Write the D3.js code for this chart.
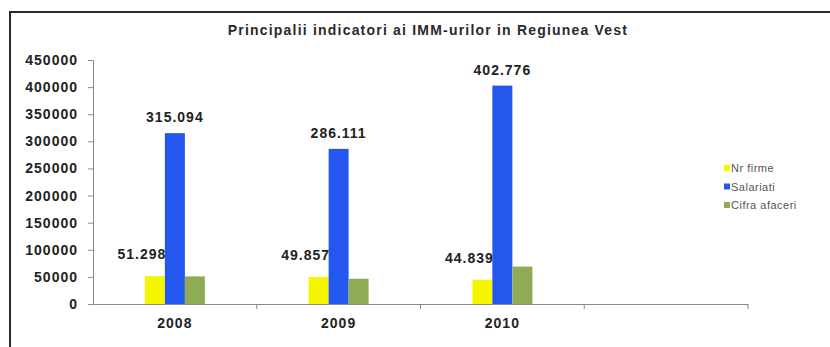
<!DOCTYPE html>
<html>
<head>
<meta charset="utf-8">
<script src="https://cdn.jsdelivr.net/npm/d3@7"></script>
<style>
  html, body { margin: 0; padding: 0; background: #fff; }
  svg { display: block; }
  text { font-family: "Liberation Sans", Arial, sans-serif; }
</style>
</head>
<body>
<svg id="chart" width="830" height="347"></svg>
<script>
// Principalii indicatori ai IMM-urilor in Regiunea Vest
const title = "Principalii indicatori ai IMM-urilor in Regiunea Vest";
const years = ["2008", "2009", "2010", ""];
const seriesNames = ["Nr firme", "Salariati", "Cifra afaceri"];
const nrFirme = [51298, 49857, 44839];
const salariati = [315094, 286111, 402776];
const cifraAfaceri = [50900, 46500, 69000];
const yTicks = [0, 50000, 100000, 150000, 200000, 250000, 300000, 350000, 400000, 450000];
const colors = ["#f6f600", "#2357ee", "#8fab56"];

const svg = d3.select("#chart");
const plot = { left: 93, right: 748, top: 60, bottom: 304 };

// outer frame
svg.append("rect")
  .attr("x", 10).attr("y", 12)
  .attr("width", 840).attr("height", 360)
  .attr("fill", "#fff")
  .attr("stroke", "#2a2a2a").attr("stroke-width", 2);

svg.append("text")
  .attr("x", 428).attr("y", 35)
  .attr("text-anchor", "middle")
  .attr("font-size", 14).attr("font-weight", "bold")
  .attr("letter-spacing", 1.2)
  .attr("fill", "#2a2a2a")
  .text(title);

const x = d3.scaleBand().domain(years).range([plot.left, plot.right]);
const y = d3.scaleLinear().domain([0, 450000]).range([plot.bottom, plot.top]);
const barW = 20;

const series = [nrFirme, salariati, cifraAfaceri];
const xs = d3.scaleBand().domain(d3.range(3)).range([0, barW * 3]);

series.forEach((vals, si) => {
  svg.append("g").selectAll("rect")
    .data(vals)
    .join("rect")
    .attr("x", (d, i) => x(years[i]) + x.bandwidth() / 2 - barW * 1.5 + xs(si))
    .attr("y", d => y(d))
    .attr("width", xs.bandwidth())
    .attr("height", d => y(0) - y(d))
    .attr("fill", colors[si]);
});

// axes
const axisColor = "#8a8a8a";
const yAxis = svg.append("g")
  .attr("transform", `translate(${plot.left},0)`)
  .call(d3.axisLeft(y).tickValues(yTicks).tickSize(5).tickPadding(10).tickFormat(d3.format("d")));
yAxis.select(".domain").attr("stroke", axisColor);
yAxis.selectAll(".tick line").attr("stroke", axisColor);
yAxis.selectAll(".tick text")
  .attr("font-family", "Liberation Sans, Arial, sans-serif")
  .attr("font-size", 14).attr("font-weight", "bold")
  .attr("letter-spacing", 1).attr("fill", "#222");

const xAxis = svg.append("g")
  .attr("transform", `translate(0,${plot.bottom})`)
  .call(d3.axisBottom(x).tickSize(0).tickPadding(14));
xAxis.select(".domain").attr("stroke", axisColor);
xAxis.selectAll(".tick text")
  .attr("font-family", "Liberation Sans, Arial, sans-serif")
  .attr("font-size", 14).attr("font-weight", "bold")
  .attr("letter-spacing", 1).attr("fill", "#222");
// tick marks at category boundaries
svg.append("g").selectAll("line")
  .data(years)
  .join("line")
  .attr("x1", d => x(d) + x.bandwidth()).attr("x2", d => x(d) + x.bandwidth())
  .attr("y1", plot.bottom).attr("y2", plot.bottom + 5)
  .attr("stroke", axisColor);

// value labels
const fmt = v => d3.format(",")(v).replace(/,/g, ".");
const labelStyle = sel => sel
  .attr("text-anchor", "middle")
  .attr("font-size", 14).attr("font-weight", "bold")
  .attr("letter-spacing", 1).attr("fill", "#222");

svg.append("g").selectAll("text")
  .data(salariati)
  .join("text")
  .attr("x", (d, i) => x(years[i]) + x.bandwidth() / 2)
  .attr("y", d => y(d) - 11)
  .text(fmt)
  .call(labelStyle);

svg.append("g").selectAll("text")
  .data(nrFirme)
  .join("text")
  .attr("x", (d, i) => x(years[i]) + x.bandwidth() / 2 - barW - 13)
  .attr("y", d => y(d) - 17)
  .text(fmt)
  .call(labelStyle);

// legend
const legend = svg.append("g").attr("transform", "translate(724,168)");
seriesNames.forEach((name, i) => {
  const g = legend.append("g").attr("transform", `translate(0,${i * 18.5})`);
  g.append("rect").attr("x", 0).attr("y", -3).attr("width", 6).attr("height", 6).attr("fill", colors[i]);
  g.append("text").attr("x", 7).attr("y", 4)
    .attr("font-size", 11).attr("letter-spacing", 0.5)
    .attr("fill", "#555").text(name);
});
</script>
</body>
</html>
